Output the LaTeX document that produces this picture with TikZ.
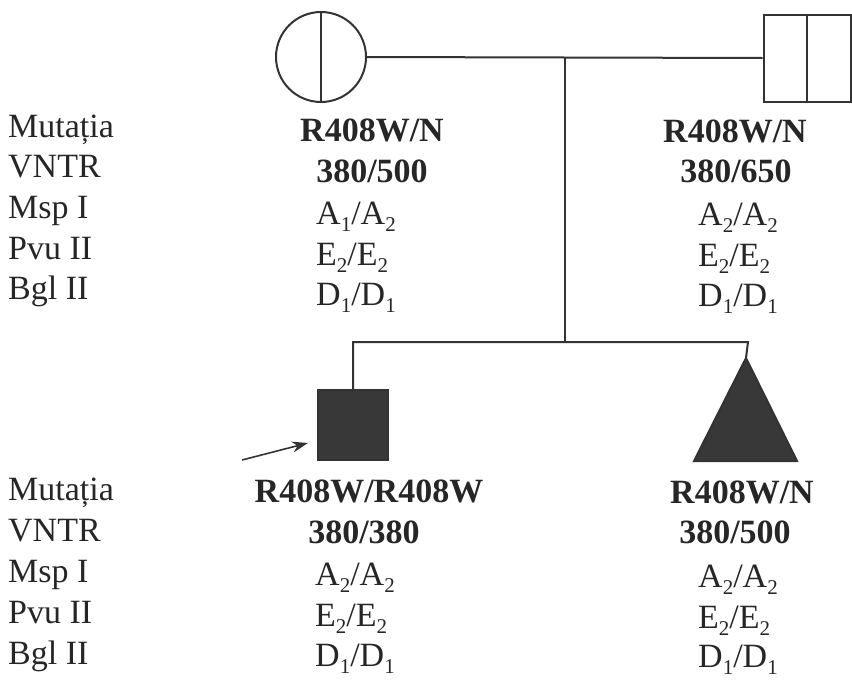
\documentclass[tikz,border=0pt]{standalone}
\usepackage{fontspec}
\setmainfont{Liberation Serif}
\usetikzlibrary{arrows.meta,positioning,calc}

% low, small allele index
\newcommand{\allelesub}[1]{\raisebox{-7pt}{\fontsize{21}{21}\selectfont #1}}

\tikzset{
    pedline/.style={draw=black!80, line width=2pt},
    female/.style={circle, draw=black!80, line width=2pt, minimum size=90pt, inner sep=0pt},
    male/.style={rectangle, draw=black!80, line width=2pt, minimum size=87pt, inner sep=0pt},
    affected/.style={fill=black!78},
    locus/.style={anchor=base west, text=black!85, inner sep=0pt, font=\fontsize{34}{40}\selectfont},
    mutation/.style={anchor=base, text=black!85, inner sep=0pt, font=\fontsize{34}{40}\selectfont\bfseries},
    allele/.style={anchor=base west, text=black!85, inner sep=0pt, font=\fontsize{34}{40}\selectfont}
}

\begin{document}
\begin{tikzpicture}[x=1pt, y=-1pt]
    \useasboundingbox (0,0) rectangle (852,683);

    % parents
    \node[female] (mother) at (321,57) {};
    \draw[pedline] (mother.north) -- (mother.south);
    \node[male] (father) at (807,58) {};
    \draw[pedline] (father.north) -- (father.south);
    \draw[pedline] (mother.east) -- coordinate[midway] (mate) (father.west);

    % children
    \node[male, affected, minimum size=70pt] (proband) at (353,425) {};
    \coordinate (sister) at (746,358);
    \draw[pedline, affected] (sister) -- ++(51,103) -- ++(-103,0) -- cycle;
    \coordinate (sibs) at (mate |- 0,342);
    \coordinate (sibL) at (proband.north |- sibs);
    \coordinate (sibR) at (748,342);
    \draw[pedline] (mate) -- (sibs);
    \draw[pedline] (proband.north) -- (sibL) -- (sibR) -- (sister);

    % proband arrow
    \coordinate (pointer) at (242,460);
    \draw[black!80, line width=1.6pt, -{Stealth[length=16pt, width=11pt]}]
        (pointer) -- ($(proband.west)+(-9,18)$);

    % locus names
    \foreach \lbl [count=\i] in {Mutația, VNTR, Msp I, Pvu II, Bgl II} {
        \node[locus] (lblTop\i) at (8,{137+40.7*(\i-1)}) {\lbl};
        \node[locus] (lblBot\i) at (8,{500+41*(\i-1)}) {\lbl};
    }

    % mother
    \node[mutation] (mMut) at (372,141) {R408W/N};
    \node[mutation] (mVntr) at (372,182) {380/500};
    \node[allele] (mMsp) at (316,224) {A\allelesub{1}/A\allelesub{2}};
    \node[allele] (mPvu) at (316,265) {E\allelesub{2}/E\allelesub{2}};
    \node[allele] (mBgl) at (316,305) {D\allelesub{1}/D\allelesub{1}};

    % father
    \node[mutation] (fMut) at (735,142) {R408W/N};
    \node[mutation] (fVntr) at (736,182) {380/650};
    \node[allele] (fMsp) at (698,225) {A\allelesub{2}/A\allelesub{2}};
    \node[allele] (fPvu) at (698,266) {E\allelesub{2}/E\allelesub{2}};
    \node[allele] (fBgl) at (698,306) {D\allelesub{1}/D\allelesub{1}};

    % proband
    \node[mutation] (pMut) at (369,502) {R408W/R408W};
    \node[mutation] (pVntr) at (364,543) {380/380};
    \node[allele] (pMsp) at (315,585) {A\allelesub{2}/A\allelesub{2}};
    \node[allele] (pPvu) at (315,626) {E\allelesub{2}/E\allelesub{2}};
    \node[allele] (pBgl) at (315,666) {D\allelesub{1}/D\allelesub{1}};

    % sister
    \node[mutation] (sMut) at (742,503) {R408W/N};
    \node[mutation] (sVntr) at (735,543) {380/500};
    \node[allele] (sMsp) at (698,587) {A\allelesub{2}/A\allelesub{2}};
    \node[allele] (sPvu) at (698,628) {E\allelesub{2}/E\allelesub{2}};
    \node[allele] (sBgl) at (698,667) {D\allelesub{1}/D\allelesub{1}};
\end{tikzpicture}
\end{document}
